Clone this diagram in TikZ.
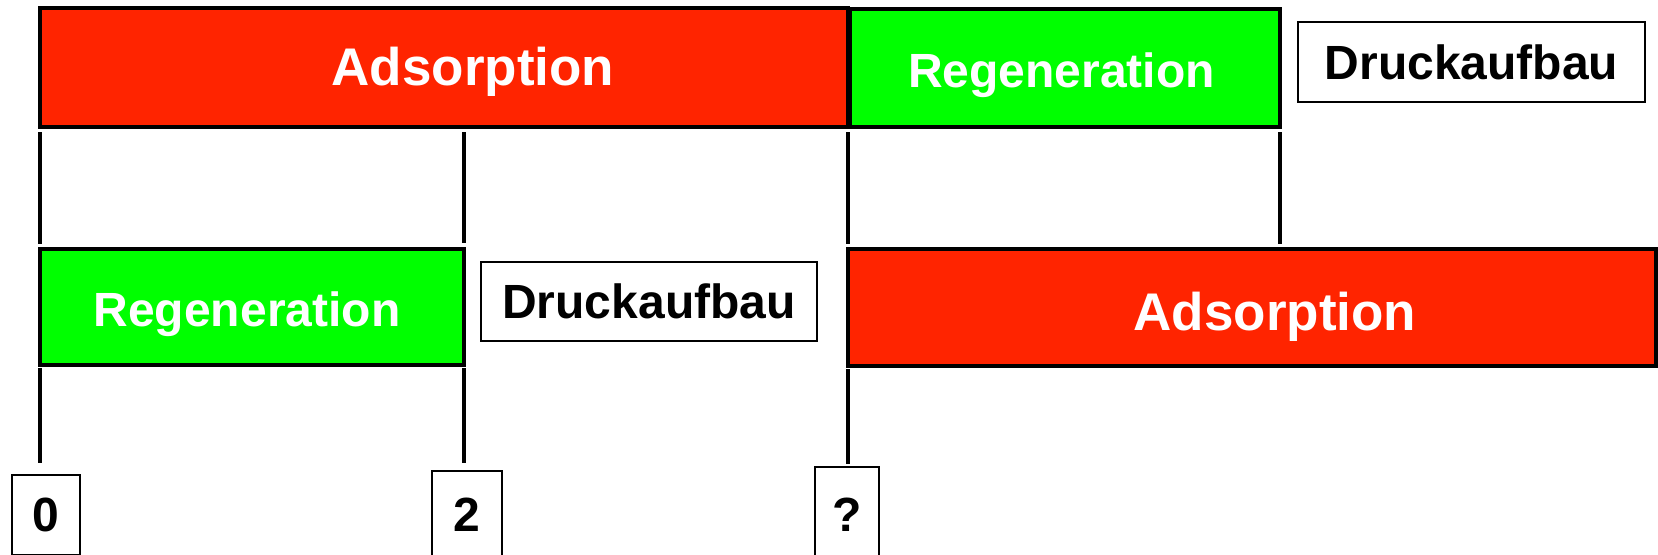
\documentclass[tikz,border=0pt]{standalone}
\usepackage{fontspec}
\setmainfont{Liberation Sans}
\definecolor{adsred}{RGB}{255,36,0}
\definecolor{reggreen}{RGB}{0,255,0}
\begin{document}
\begin{tikzpicture}[x=0.5pt,y=-0.5pt,
  phase/.style={draw=black, line width=1.75pt, inner sep=0pt, outer sep=0pt},
  adsbox/.style={phase, fill=adsred},
  regbox/.style={phase, fill=reggreen},
  phasetext/.style={inner sep=0pt, outer sep=0pt, text depth=0pt, text=white,
    font=\fontsize{24}{28}\selectfont\bfseries},
  adstext/.style={phasetext, font=\fontsize{26.5}{30}\selectfont\bfseries},
  druckbox/.style={draw=black, line width=1.2pt, inner sep=0pt, outer sep=0pt, text depth=0pt,
    fill=white, text=black, font=\fontsize{24}{28}\selectfont\bfseries},
  markbox/.style={draw=black, line width=1.2pt, inner sep=0pt, outer sep=0pt, text depth=0pt,
    fill=white, text=black, font=\fontsize{24}{28}\selectfont\bfseries},
  vline/.style={draw=black, line width=1.7pt}]
\useasboundingbox (0,0) rectangle (1658,554);

% top row
\node[adsbox, minimum width=404pt, minimum height=59.5pt] (topred) at (444,67.5) {};
\node[adstext] (topredtxt) at (473,66.5) {Adsorption};
\node[regbox, minimum width=215pt, minimum height=59pt] (topgreen) at (1065,68) {};
\node[phasetext] (topgreentxt) at (1061.5,70) {Regeneration};
\node[druckbox, minimum width=173.5pt, minimum height=40pt] (topdruck) at (1471.5,62) {Druckaufbau};

% bottom row
\node[regbox, minimum width=212pt, minimum height=58pt] (botgreen) at (252,307) {};
\node[phasetext] (botgreentxt) at (247,309.5) {Regeneration};
\node[druckbox, minimum width=168pt, minimum height=39.5pt] (botdruck) at (649,301.5) {Druckaufbau};
\node[adsbox, minimum width=404pt, minimum height=58.5pt] (botred) at (1252,307.5) {};
\node[adstext] (botredtxt) at (1275,311) {Adsorption};

% time marks
\node[markbox, minimum width=34pt, minimum height=40pt] (b0) at (46,515) {0};
\node[markbox, minimum width=35pt, minimum height=44pt] (b2) at (467,515) {2};
\node[markbox, minimum width=32pt, minimum height=48pt] (bq) at (847,515) {?};

% connectors between rows
\draw[vline] ([yshift=-2.5pt]topred.south west) -- ([yshift=2.5pt]botgreen.north west);
\draw[vline] ([yshift=-2.5pt]topred.south -| botgreen.north east) -- ([yshift=3pt]botgreen.north east);
\draw[vline] ([yshift=-2.5pt]topred.south east) -- ([yshift=2.5pt]botred.north west);
\draw[vline] ([yshift=-2.5pt]topgreen.south east) -- ([yshift=2.5pt]topgreen.south east |- botred.north);

% connectors to time marks
\draw[vline] ([yshift=-1.5pt]botgreen.south west) -- ([yshift=6pt]botgreen.south west |- b0.north);
\draw[vline] ([yshift=-1.5pt]botgreen.south east) -- ([yshift=4pt]botgreen.south east |- b2.north);
\draw[vline] ([yshift=-1.5pt]botred.south west) -- ([yshift=1.5pt]botred.south west |- bq.north);
\end{tikzpicture}
\end{document}
